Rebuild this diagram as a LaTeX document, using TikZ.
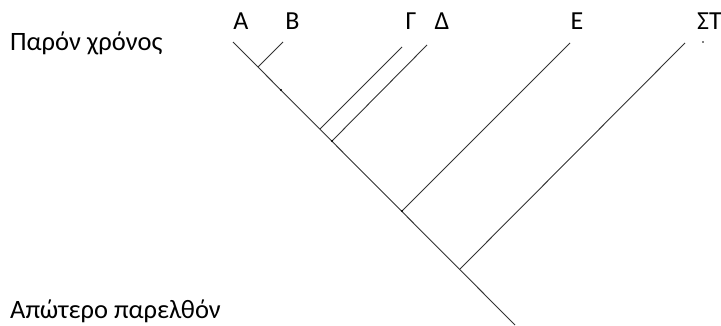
\documentclass[tikz,border=0pt]{standalone}
\usepackage{fontspec}
\setmainfont{Carlito}
\begin{document}
\begin{tikzpicture}[x=1pt,y=-1pt,
  branch/.style={draw=black!80, line width=0.9pt},
  lbl/.style={inner sep=0pt, anchor=base, font=\fontsize{26}{30}\selectfont},
  side/.style={inner sep=0pt, anchor=base west, font=\fontsize{26.5}{30}\selectfont},
  dotmark/.style={circle, fill=black, inner sep=0pt, minimum size=2.2pt}]
\useasboundingbox (0,0) rectangle (721,326);
% side texts
\node[side] (present) at (10,51) {Παρόν χρόνος};
\node[side] (past) at (10,318) {Απώτερο παρελθόν};
% taxon labels
\node[lbl] (lA) at (241,30) {Α};
\node[lbl] (lB) at (292.5,30) {Β};
\node[lbl] (lG) at (411,30) {Γ};
\node[lbl] (lD) at (442,30) {Δ};
\node[lbl] (lE) at (577,30) {Ε};
\node[lbl, anchor=base west] (lS) at (697,30) {ΣΤ};
% leaves
\coordinate (A) at (233,42);
\coordinate (B) at (283,42);
\coordinate (G) at (402,47);
\coordinate (D) at (427,45);
\coordinate (E) at (570,43);
\coordinate (S) at (685,43);
% junctions
\coordinate (jAB) at (258,67);
\coordinate (jG) at (320,129);
\coordinate (jD) at (332,141);
\coordinate (jE) at (402,211);
\coordinate (jS) at (460,269);
\coordinate (root) at (515,325);
% main line
\draw[branch] (A) -- (root);
% branches
\draw[branch] (B) -- (jAB);
\draw[branch] (G) -- (jG);
\draw[branch] (D) -- (jD);
\draw[branch] (E) -- (jE);
\draw[branch] (S) -- (jS);
% dots
\node[dotmark] (d1) at (281,90) {};
\node[dotmark] (d2) at (jD) {};
\node[dotmark] (d3) at (jE) {};
\node[dotmark, minimum size=1.6pt] (d4) at (703,42) {};
\end{tikzpicture}
\end{document}
